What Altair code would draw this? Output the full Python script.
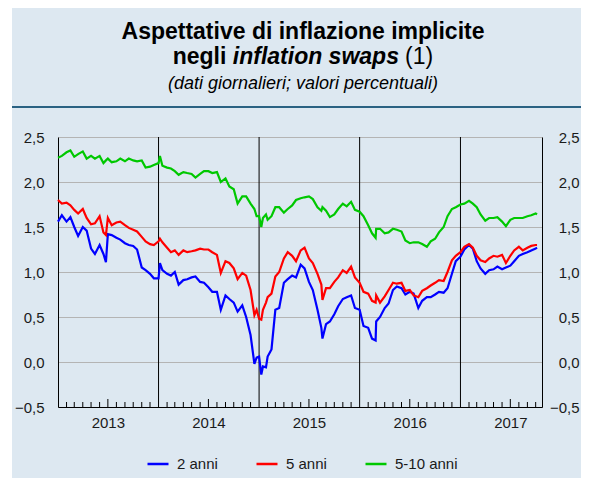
import altair as alt
import pandas as pd

SERIES = ["2 anni", "5 anni", "5-10 anni"]
COLORS = ["#0000ff", "#ff0000", "#00c800"]

# semi-monthly readings (1st and 15th of each month), Jan 2013 - Oct 2017
BLUE_2013 = [1.56, 1.63, 1.56, 1.61, 1.50, 1.40, 1.50, 1.46, 1.26, 1.20, 1.30, 1.20,
             1.42, 1.41, 1.38, 1.36, 1.32, 1.30, 1.29, 1.25, 1.05, 1.02, 0.98, 0.93]
BLUE_2014 = [0.93, 1.02, 0.98, 0.96, 1.00, 0.86, 0.91, 0.92, 0.94, 0.95, 0.89, 0.88,
             0.83, 0.78, 0.78, 0.58, 0.74, 0.70, 0.66, 0.56, 0.63, 0.50, 0.30, -0.02]
BLUE_2015 = [0.06, -0.05, 0.06, 0.14, 0.58, 0.60, 0.88, 0.92, 0.96, 0.94, 1.08, 1.04,
             0.89, 0.80, 0.58, 0.38, 0.42, 0.45, 0.53, 0.62, 0.70, 0.72, 0.74, 0.60]
BLUE_2016 = [0.58, 0.40, 0.38, 0.26, 0.45, 0.50, 0.60, 0.65, 0.80, 0.84, 0.82, 0.75,
             0.78, 0.76, 0.60, 0.68, 0.72, 0.72, 0.75, 0.78, 0.77, 0.82, 0.98, 1.12]
BLUE_2017 = [1.17, 1.25, 1.30, 1.26, 1.12, 1.04, 0.98, 1.02, 1.03, 1.06, 1.03, 1.05,
             1.07, 1.12, 1.18, 1.20, 1.22, 1.24, 1.26]

RED_2013 = [1.80, 1.76, 1.77, 1.74, 1.69, 1.65, 1.70, 1.60, 1.53, 1.54, 1.62, 1.44,
            1.60, 1.52, 1.55, 1.56, 1.52, 1.49, 1.47, 1.45, 1.39, 1.34, 1.31, 1.30]
RED_2014 = [1.34, 1.33, 1.27, 1.22, 1.24, 1.19, 1.24, 1.22, 1.23, 1.24, 1.26, 1.25,
            1.25, 1.22, 1.19, 0.99, 1.12, 1.10, 1.04, 0.92, 0.99, 0.96, 0.80, 0.52]
RED_2015 = [0.48, 0.58, 0.72, 0.76, 0.95, 1.00, 1.15, 1.22, 1.18, 1.12, 1.24, 1.27,
            1.15, 1.10, 0.98, 0.86, 0.82, 0.82, 0.89, 0.94, 1.02, 0.99, 1.06, 0.94]
RED_2016 = [0.88, 0.78, 0.76, 0.68, 0.74, 0.66, 0.73, 0.80, 0.88, 0.87, 0.88, 0.79,
            0.80, 0.74, 0.72, 0.79, 0.82, 0.85, 0.88, 0.91, 0.90, 1.00, 1.13, 1.18]
RED_2017 = [1.22, 1.28, 1.31, 1.27, 1.18, 1.13, 1.11, 1.15, 1.18, 1.17, 1.19, 1.10,
            1.18, 1.24, 1.28, 1.24, 1.27, 1.29, 1.30]

GREEN_2013 = [2.27, 2.29, 2.33, 2.35, 2.28, 2.31, 2.34, 2.26, 2.29, 2.26, 2.29, 2.21,
              2.26, 2.22, 2.23, 2.26, 2.23, 2.26, 2.24, 2.23, 2.24, 2.16, 2.17, 2.19]
GREEN_2014 = [2.21, 2.18, 2.16, 2.15, 2.12, 2.08, 2.11, 2.10, 2.09, 2.05, 2.09, 2.12,
              2.12, 2.10, 2.11, 2.00, 2.04, 1.95, 1.92, 1.76, 1.84, 1.84, 1.76, 1.70]
GREEN_2015 = [1.62, 1.60, 1.58, 1.62, 1.72, 1.72, 1.66, 1.70, 1.74, 1.80, 1.82, 1.83,
              1.84, 1.81, 1.72, 1.68, 1.68, 1.61, 1.64, 1.70, 1.76, 1.73, 1.78, 1.69]
GREEN_2016 = [1.67, 1.62, 1.52, 1.43, 1.48, 1.48, 1.43, 1.44, 1.48, 1.47, 1.45, 1.35,
              1.32, 1.33, 1.33, 1.31, 1.28, 1.34, 1.37, 1.44, 1.50, 1.62, 1.70, 1.72]
GREEN_2017 = [1.75, 1.76, 1.79, 1.76, 1.72, 1.64, 1.57, 1.60, 1.60, 1.61, 1.56, 1.51,
              1.58, 1.60, 1.60, 1.60, 1.62, 1.63, 1.65]

# extra readings at visible spikes / end of series
EXTRA_DATES = ["2013-06-24", "2014-01-06", "2014-12-23", "2015-01-09",
               "2015-01-26", "2015-08-19", "2016-02-28", "2017-10-06"]
EXTRA_BLUE = [1.11, 1.10, 0.05, -0.14, -0.06, 0.26, 0.24, 1.27]
EXTRA_RED = [1.41, 1.37, 0.58, 0.47, 0.66, 0.69, 0.66, 1.30]
EXTRA_GREEN = [2.24, 2.29, 1.62, 1.50, 1.64, 1.72, 1.38, 1.64]

Y_TICKS = [-0.5, 0.0, 0.5, 1.0, 1.5, 2.0, 2.5]
YEARS = [2013, 2014, 2015, 2016, 2017]

# ---- build tables ----
semi = []
for yr in YEARS:
    for m in range(1, 13):
        for d in (1, 15):
            s = f"{yr}-{m:02d}-{d:02d}"
            if s <= "2017-10-01":
                semi.append(s)

blue = BLUE_2013 + BLUE_2014 + BLUE_2015 + BLUE_2016 + BLUE_2017
red = RED_2013 + RED_2014 + RED_2015 + RED_2016 + RED_2017
green = GREEN_2013 + GREEN_2014 + GREEN_2015 + GREEN_2016 + GREEN_2017

dates = semi + EXTRA_DATES
rows = []
for name, vals, extra in [(SERIES[0], blue, EXTRA_BLUE), (SERIES[1], red, EXTRA_RED),
                          (SERIES[2], green, EXTRA_GREEN)]:
    for dt, v in zip(dates, vals + extra):
        rows.append({"date": dt, "value": v, "series": name})
df = pd.DataFrame(rows).sort_values(["series", "date"]).reset_index(drop=True)

month_small = []
month_big = []
for yr in YEARS:
    for m in range(1, 13):
        s = f"{yr}-{m:02d}-01"
        if s > "2017-10-01" or m == 1:
            continue
        (month_big if m == 7 else month_small).append({"date": s})
year_lines = pd.DataFrame({"date": [f"{yr}-01-01" for yr in YEARS[1:]]})

W, H = 484, 270
FONT = "Liberation Sans"

x_scale = alt.Scale(type="utc", domain=[alt.DateTime(year=2013, month=1, date=1, utc=True),
                                        alt.DateTime(year=2017, month=10, date=24, utc=True)])
y_scale = alt.Scale(domain=[-0.5, 2.5], nice=False, zero=False)
lab = "replace(format(datum.value, '.1f'), '.', ',')"

x_enc = alt.X("date:T", scale=x_scale, title=None,
              axis=alt.Axis(values=[alt.DateTime(year=yr, month=7, date=1, utc=True) for yr in YEARS],
                            labelExpr="utcFormat(datum.value, '%Y')", ticks=False, tickSize=0,
                            grid=False, domainColor="black", domainWidth=1, labelPadding=8,
                            labelFontSize=15, labelColor="#1a1a1a", labelFont=FONT))

lines = alt.Chart(df).mark_line(strokeWidth=2.2).encode(
    x=x_enc,
    y=alt.Y("value:Q", scale=y_scale, title=None,
            axis=alt.Axis(orient="left", values=Y_TICKS, labelExpr=lab, grid=True,
                          gridColor="#b4b4b4", gridWidth=1, ticks=False, tickSize=0,
                          domainColor="black", labelPadding=14, labelFontSize=15,
                          labelColor="#1a1a1a", labelFont=FONT)),
    color=alt.Color("series:N", scale=alt.Scale(domain=SERIES, range=COLORS),
                    legend=alt.Legend(title=None, orient="none", legendX=88, legendY=315,
                                      direction="horizontal", symbolType="stroke",
                                      symbolSize=441, symbolStrokeWidth=2.5,
                                      labelFontSize=15, labelFont=FONT, labelColor="#1a1a1a",
                                      labelOffset=7, columnPadding=33)),
    detail="series:N",
)

right_axis = alt.Chart(df).mark_line(opacity=0).encode(
    x=x_enc,
    y=alt.Y("value:Q", scale=y_scale, title=None,
            axis=alt.Axis(orient="right", values=Y_TICKS, labelExpr=lab, grid=False,
                          ticks=False, tickSize=0, domainColor="black", labelAlign="right",
                          labelPadding=37, labelFontSize=15, labelColor="#1a1a1a",
                          labelFont=FONT)),
)

yr_rules = alt.Chart(year_lines).mark_rule(color="black", strokeWidth=1).encode(x=x_enc)
small_ticks = alt.Chart(pd.DataFrame(month_small)).mark_rule(color="black", strokeWidth=1).encode(
    x=x_enc, y=alt.value(H), y2=alt.value(H - 5))
big_ticks = alt.Chart(pd.DataFrame(month_big)).mark_rule(color="black", strokeWidth=1).encode(
    x=x_enc, y=alt.value(H), y2=alt.value(H - 8))

one = alt.Data(values=[{"k": 1}])
left_strip = alt.Chart(one).mark_rect(color="white").encode(
    x=alt.value(-50), x2=alt.value(-46), y=alt.value(-129), y2=alt.value(H + 71))
sep = alt.Chart(one).mark_rule(color="#2a6283", strokeWidth=2).encode(
    x=alt.value(-46), x2=alt.value(W + 40), y=alt.value(-30))

t1 = alt.Chart(one).mark_text(text="Aspettative di inflazione implicite", font=FONT, fontSize=23,
                              fontWeight="bold", align="center", baseline="alphabetic",
                              color="black").encode(x=alt.value(245), y=alt.value(-98))
t2a = alt.Chart(one).mark_text(text="negli", font=FONT, fontSize=23, fontWeight="bold",
                               align="left", baseline="alphabetic", color="black").encode(
    x=alt.value(114.7), y=alt.value(-73))
t2b = alt.Chart(one).mark_text(text="inflation swaps", font=FONT, fontSize=23, fontWeight="bold",
                               fontStyle="italic", align="left", baseline="alphabetic",
                               color="black").encode(x=alt.value(174.8), y=alt.value(-73))
t2c = alt.Chart(one).mark_text(text="(1)", font=FONT, fontSize=23, align="left",
                               baseline="alphabetic", color="black").encode(
    x=alt.value(347.1), y=alt.value(-73))
t3 = alt.Chart(one).mark_text(text="(dati giornalieri; valori percentuali)", font=FONT,
                              fontSize=18, fontStyle="italic", align="center",
                              baseline="alphabetic", color="black").encode(
    x=alt.value(245), y=alt.value(-48))

chart = alt.layer(
    left_strip, sep, t1, t2a, t2b, t2c, t3,
    yr_rules, lines, small_ticks, big_ticks, right_axis,
).resolve_axis(y="independent").properties(
    width=W, height=H,
    padding={"left": 50, "top": 129, "right": 39, "bottom": 71},
    autosize=alt.AutoSizeParams(type="none"),
    background="#dde8f1",
).configure_view(fill="white", stroke="transparent").configure(font=FONT)

chart.save("out.html", embed_options={"renderer": "svg", "actions": False})
